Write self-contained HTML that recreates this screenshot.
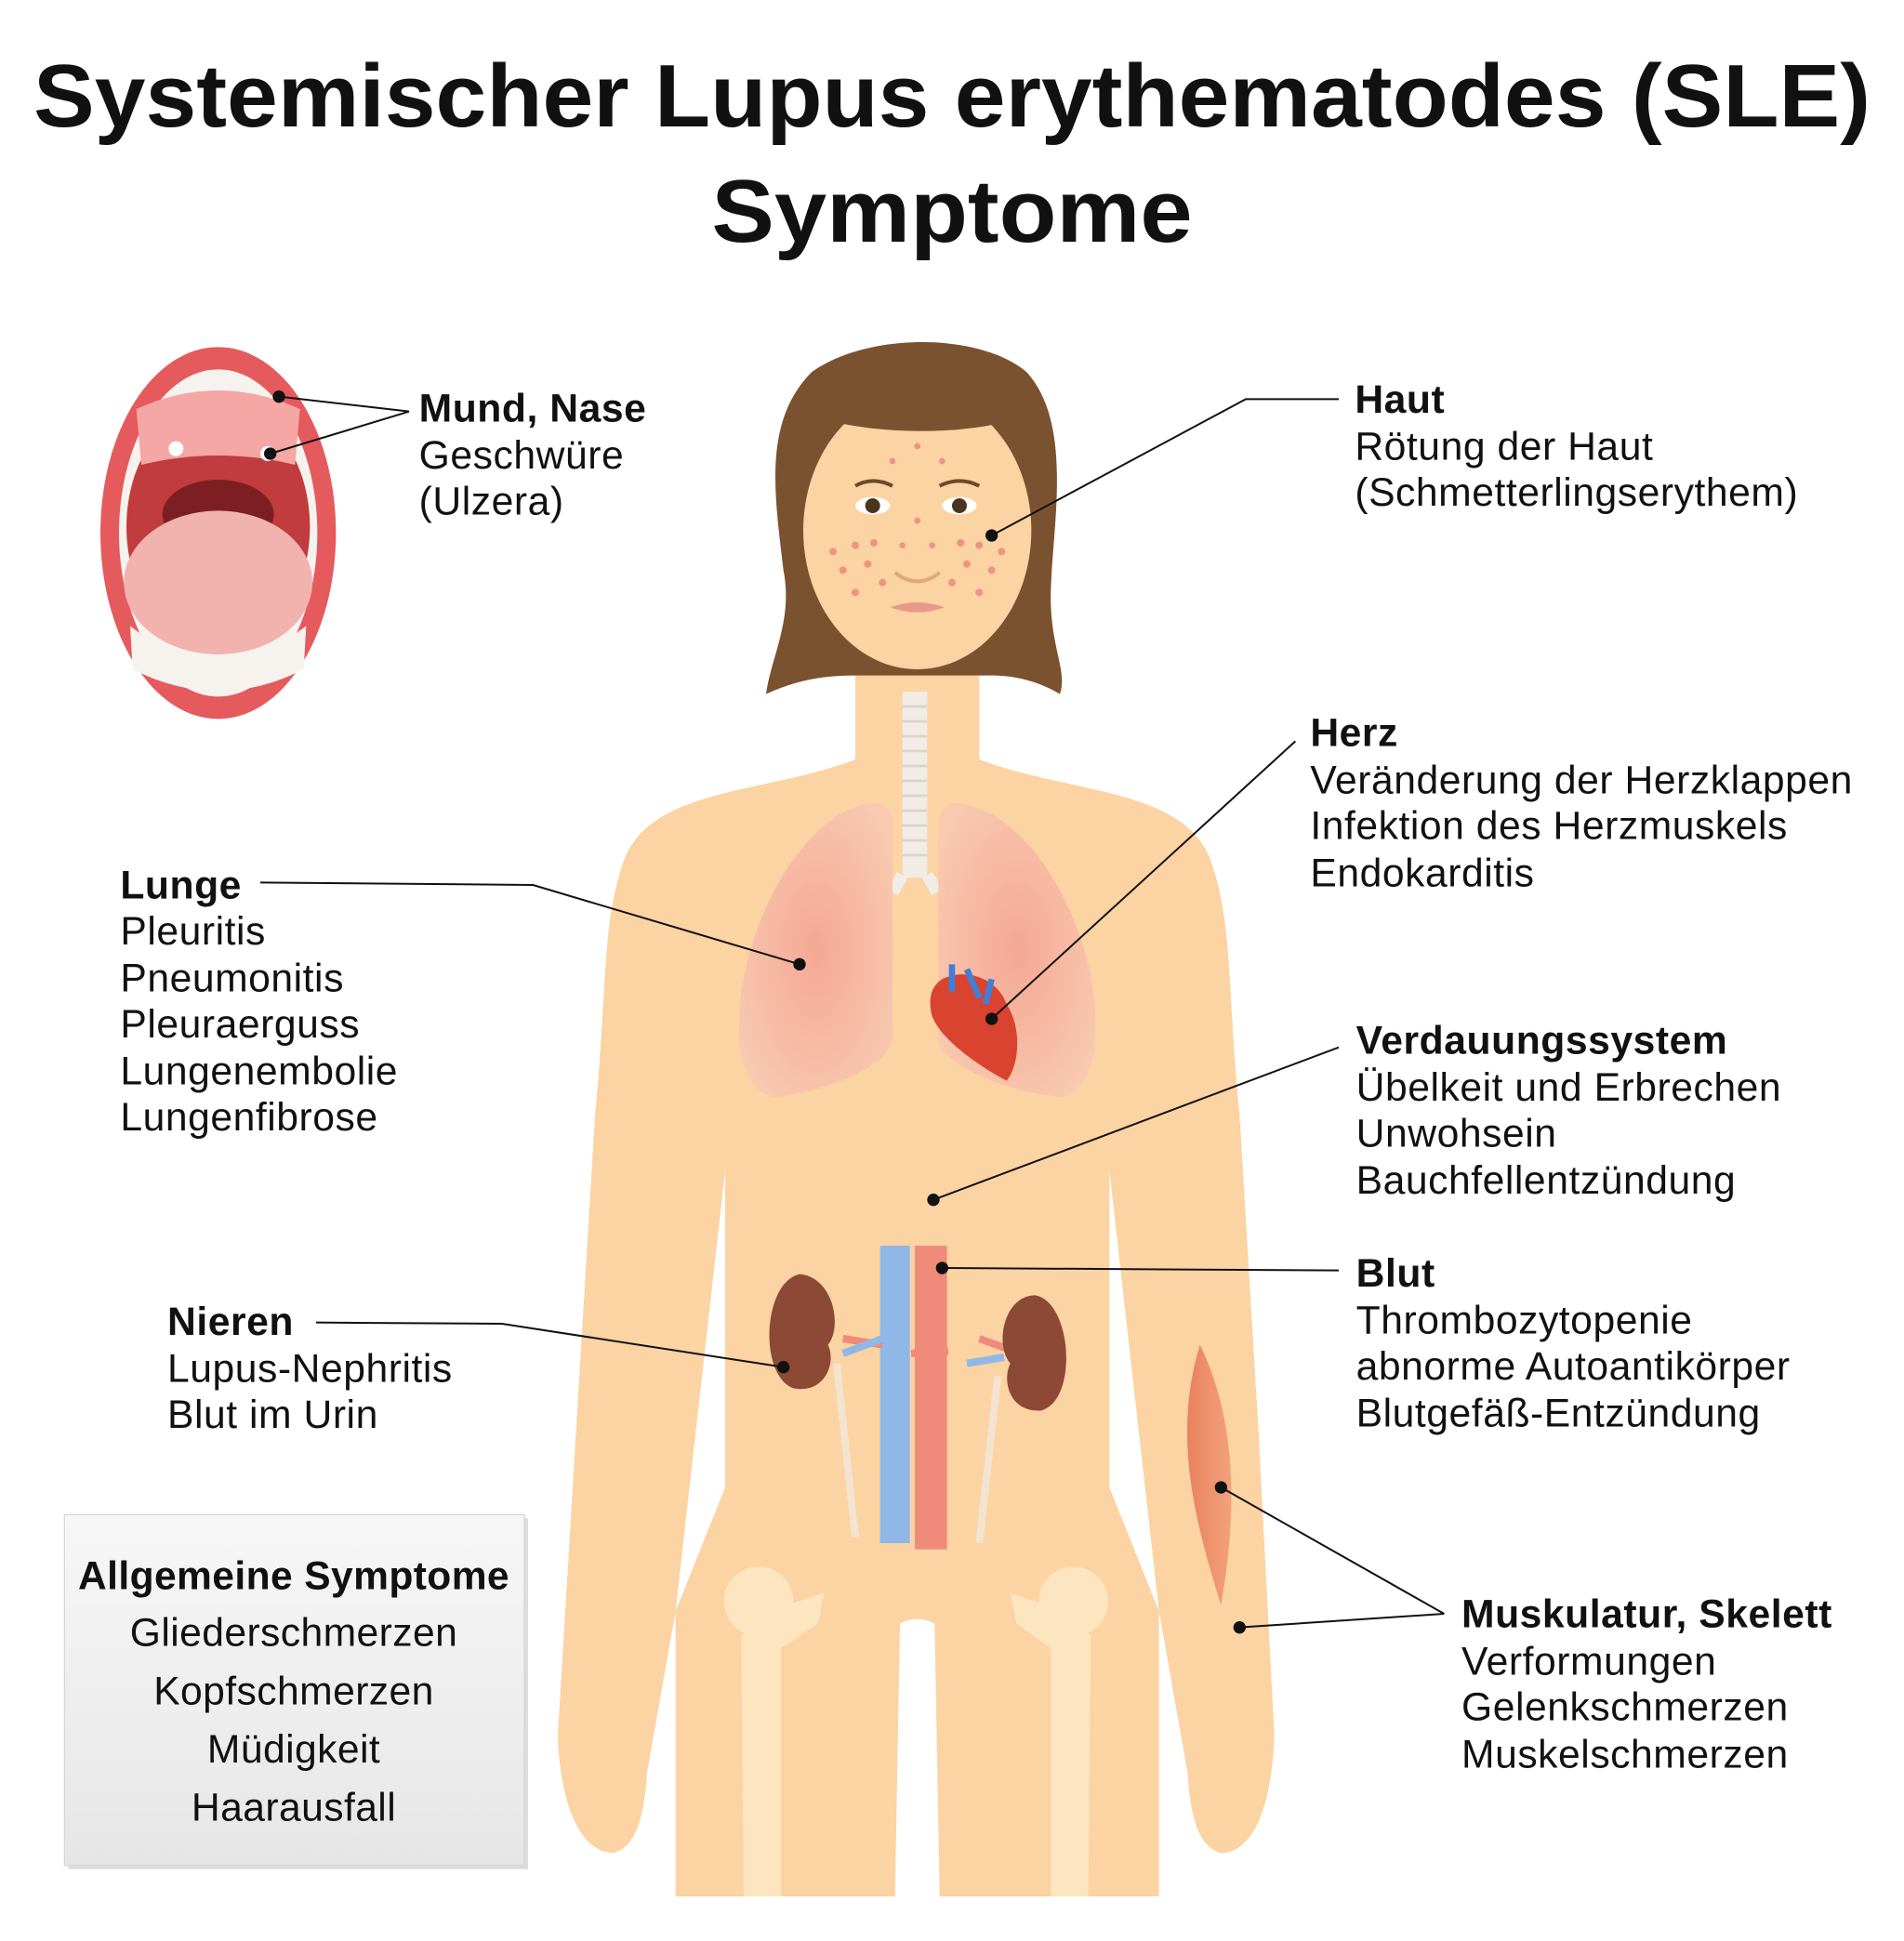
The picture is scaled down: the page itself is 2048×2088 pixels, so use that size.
<!DOCTYPE html>
<html><head><meta charset="utf-8"><style>
html,body{margin:0;padding:0;background:#fff}
svg{display:block}
text{font-family:"Liberation Sans",sans-serif;fill:#111}
.b{font-weight:bold}
</style></head><body>
<svg width="2048" height="2088" viewBox="0 0 1536 1566" xmlns="http://www.w3.org/2000/svg">
<defs>
<radialGradient id="lung" cx="0.5" cy="0.5" r="0.6"><stop offset="0" stop-color="#f4a894"/><stop offset="1" stop-color="#f9c9b0"/></radialGradient>
<linearGradient id="box" x1="0" y1="0" x2="0" y2="1"><stop offset="0" stop-color="#f7f7f7"/><stop offset="1" stop-color="#e6e6e6"/></linearGradient>
<linearGradient id="musc" x1="0" y1="0" x2="1" y2="0"><stop offset="0" stop-color="#e9825e"/><stop offset="1" stop-color="#f2a27c"/></linearGradient>
</defs>
<text x="768" y="102" class="b" font-size="72" text-anchor="middle" textLength="1482" lengthAdjust="spacingAndGlyphs">Systemischer Lupus erythematodes (SLE)</text>
<text x="768" y="195" class="b" font-size="72" text-anchor="middle" textLength="388" lengthAdjust="spacingAndGlyphs">Symptome</text>

<!-- body -->
<g fill="#fcd3a2">
<path d="M692 612 C620 640 530 635 505 690 C485 740 490 800 480 900 L465 1150 L450 1400 C452 1460 470 1495 495 1495 C515 1490 520 1460 522 1430 L545 1300 L590 900 L590 700 L692 700 Z"/>
<path d="M788 612 C860 640 950 635 975 690 C995 740 990 800 1000 900 L1015 1150 L1028 1400 C1026 1460 1010 1495 985 1495 C965 1490 960 1460 958 1430 L935 1300 L890 900 L890 700 L788 700 Z"/>
<rect x="690" y="520" width="100" height="190"/>
<path d="M585 680 L895 680 L895 1200 L935 1300 L935 1530 L545 1530 L545 1300 L585 1200 Z"/>
</g>
<path d="M726 1310 C735 1305 745 1305 754 1310 L758 1530 L722 1530 Z" fill="#fff"/>
<!-- hair -->
<path d="M655 300 C700 268 790 268 828 300 C865 340 850 420 848 470 C845 520 862 540 855 560 C835 548 815 545 800 545 L690 545 C660 545 640 550 618 560 C622 530 640 500 632 460 C625 400 615 340 655 300Z" fill="#7b5230"/>
<!-- face -->
<ellipse cx="740" cy="428" rx="92" ry="112" fill="#fcd3a2"/>
<path d="M655 335 C690 300 790 300 825 335 C790 352 700 352 655 335Z" fill="#7b5230"/>
<g fill="#e77a7a" opacity="0.7">
<circle cx="690" cy="440" r="3"/><circle cx="700" cy="455" r="3"/><circle cx="680" cy="460" r="3"/><circle cx="712" cy="470" r="3"/><circle cx="690" cy="478" r="3"/><circle cx="672" cy="445" r="3"/><circle cx="705" cy="438" r="3"/>
<circle cx="790" cy="440" r="3"/><circle cx="780" cy="455" r="3"/><circle cx="800" cy="460" r="3"/><circle cx="768" cy="470" r="3"/><circle cx="790" cy="478" r="3"/><circle cx="808" cy="445" r="3"/><circle cx="775" cy="438" r="3"/>
<circle cx="740" cy="360" r="2.5"/><circle cx="720" cy="372" r="2.5"/><circle cx="760" cy="372" r="2.5"/><circle cx="740" cy="420" r="2.5"/><circle cx="728" cy="440" r="2.5"/><circle cx="752" cy="440" r="2.5"/>
</g>
<ellipse cx="704" cy="408" rx="14" ry="7" fill="#fff"/><circle cx="704" cy="408" r="6" fill="#4a3420"/>
<ellipse cx="774" cy="408" rx="14" ry="7" fill="#fff"/><circle cx="774" cy="408" r="6" fill="#4a3420"/>
<path d="M690 392 Q704 384 720 392 M758 392 Q774 384 790 392" stroke="#6b4a2a" stroke-width="3" fill="none"/>
<path d="M722 462 Q740 476 758 462" stroke="#e0a880" stroke-width="3" fill="none"/>
<path d="M718 490 Q740 482 762 490 Q740 498 718 490Z" fill="#e89a8a"/>
<!-- trachea -->
<rect x="728" y="558" width="20" height="150" fill="#f1ece6"/>
<g stroke="#ddd3c8" stroke-width="2"><path d="M728 570h20M728 582h20M728 594h20M728 606h20M728 618h20M728 630h20M728 642h20M728 654h20M728 666h20M728 678h20M728 690h20"/></g>
<path d="M728 706 L720 720 M748 706 L756 720" stroke="#f1ece6" stroke-width="10"/>
<!-- lungs -->
<path d="M705 648 C660 650 610 720 598 800 C592 850 600 880 625 885 C670 880 715 860 720 840 L720 660 C718 652 712 648 705 648Z" fill="url(#lung)"/>
<path d="M770 648 C820 650 870 720 882 800 C888 850 880 880 855 885 C810 880 762 860 757 840 L757 660 C759 652 765 648 770 648Z" fill="url(#lung)"/>
<!-- heart -->
<path d="M760 790 C780 780 805 790 812 810 C825 830 822 860 812 872 C790 860 760 840 752 820 C748 805 752 795 760 790Z" fill="#d9432f"/>
<path d="M768 778 L768 800 M780 782 L790 805 M800 790 L795 810" stroke="#3f7fd8" stroke-width="5"/>
<!-- vessels -->
<rect x="710" y="1005" width="24" height="240" fill="#8fb8e8"/>
<rect x="738" y="1005" width="26" height="245" fill="#f08a7a"/>
<path d="M680 1080 L712 1085 M735 1092 L765 1090 M790 1080 L812 1088" stroke="#f08a7a" stroke-width="6"/>
<path d="M680 1092 L712 1080 M780 1100 L810 1095" stroke="#8fb8e8" stroke-width="6"/>
<!-- kidneys -->
<path d="M645 1028 C615 1035 612 1110 640 1120 C665 1125 675 1100 668 1085 C680 1070 672 1030 645 1028Z" fill="#8c4a36"/>
<path d="M835 1045 C865 1050 870 1130 840 1138 C815 1140 808 1115 815 1100 C802 1085 810 1045 835 1045Z" fill="#8c4a36"/>
<path d="M675 1100 L690 1240 M805 1110 L790 1245" stroke="#f3e3cf" stroke-width="6"/>
<!-- bones -->
<g fill="#fde5bf">
<circle cx="612" cy="1292" r="28"/><path d="M620 1300 L665 1285 L660 1310 L630 1330 L630 1530 L600 1530 L598 1320Z"/>
<circle cx="866" cy="1292" r="28"/><path d="M858 1300 L815 1285 L820 1310 L848 1330 L848 1530 L878 1530 L880 1320Z"/>
</g>
<!-- muscle -->
<path d="M968 1085 C995 1140 1000 1210 985 1295 C965 1230 945 1160 968 1085Z" fill="url(#musc)"/>

<!-- mouth -->
<ellipse cx="176" cy="430" rx="95" ry="150" fill="#e55a5c"/>
<ellipse cx="176" cy="430" rx="80" ry="132" fill="#f6f2ee"/>
<ellipse cx="176" cy="425" rx="74" ry="100" fill="#c13c3e"/>
<path d="M110 330 Q176 300 242 330 L238 375 Q176 360 114 375Z" fill="#f4a7a5"/>
<ellipse cx="176" cy="415" rx="45" ry="28" fill="#7d1f22"/>
<ellipse cx="176" cy="470" rx="76" ry="58" fill="#f2b3ae"/>
<path d="M105 505 Q176 560 247 505 L245 540 Q176 575 107 540Z" fill="#f6f2ee"/>
<circle cx="142" cy="362" r="6" fill="#fff"/><circle cx="216" cy="366" r="6" fill="#fff"/>

<!-- connectors -->
<g stroke="#111" stroke-width="1.5" fill="none">
<path d="M330 332 L225 320 M330 332 L218 366"/>
<path d="M1080 322 L1005 322 L800 432"/>
<path d="M1045 598 L800 822"/>
<path d="M210 712 L430 714 L645 778"/>
<path d="M1080 845 L753 968"/>
<path d="M1080 1025 L760 1023"/>
<path d="M255 1067 L405 1068 L632 1103"/>
<path d="M1165 1302 L985 1200 M1165 1302 L1000 1313"/>
</g>
<g fill="#111">
<circle cx="225" cy="320" r="5"/><circle cx="218" cy="366" r="5"/><circle cx="800" cy="432" r="5"/><circle cx="800" cy="822" r="5"/><circle cx="645" cy="778" r="5"/><circle cx="753" cy="968" r="5"/><circle cx="760" cy="1023" r="5"/><circle cx="632" cy="1103" r="5"/><circle cx="985" cy="1200" r="5"/><circle cx="1000" cy="1313" r="5"/>
</g>

<g font-size="32" letter-spacing="0.4">
<text x="338" y="340" class="b">Mund, Nase</text><text x="338" y="378">Geschwüre</text><text x="338" y="415">(Ulzera)</text>
<text x="1093" y="333" class="b">Haut</text><text x="1093" y="371">Rötung der Haut</text><text x="1093" y="408">(Schmetterlingserythem)</text>
<text x="1057" y="602" class="b">Herz</text><text x="1057" y="640">Veränderung der Herzklappen</text><text x="1057" y="677">Infektion des Herzmuskels</text><text x="1057" y="715">Endokarditis</text>
<text x="97" y="725" class="b">Lunge</text><text x="97" y="762">Pleuritis</text><text x="97" y="800">Pneumonitis</text><text x="97" y="837">Pleuraerguss</text><text x="97" y="875">Lungenembolie</text><text x="97" y="912">Lungenfibrose</text>
<text x="1094" y="850" class="b">Verdauungssystem</text><text x="1094" y="888">Übelkeit und Erbrechen</text><text x="1094" y="925">Unwohsein</text><text x="1094" y="963">Bauchfellentzündung</text>
<text x="1094" y="1038" class="b">Blut</text><text x="1094" y="1076">Thrombozytopenie</text><text x="1094" y="1113">abnorme Autoantikörper</text><text x="1094" y="1151">Blutgefäß-Entzündung</text>
<text x="135" y="1077" class="b">Nieren</text><text x="135" y="1115">Lupus-Nephritis</text><text x="135" y="1152">Blut im Urin</text>
<text x="1179" y="1313" class="b">Muskulatur, Skelett</text><text x="1179" y="1351">Verformungen</text><text x="1179" y="1388">Gelenkschmerzen</text><text x="1179" y="1426">Muskelschmerzen</text>
</g>

<rect x="55" y="1225" width="371" height="283" fill="#ddd"/>
<rect x="52" y="1222" width="371" height="283" fill="url(#box)" stroke="#d6d6d6"/>
<g font-size="32" text-anchor="middle" letter-spacing="0.3">
<text x="237" y="1282" class="b" textLength="348" lengthAdjust="spacingAndGlyphs">Allgemeine Symptome</text>
<text x="237" y="1328">Gliederschmerzen</text>
<text x="237" y="1375">Kopfschmerzen</text>
<text x="237" y="1422">Müdigkeit</text>
<text x="237" y="1469">Haarausfall</text>
</g>
</svg>
</body></html>
